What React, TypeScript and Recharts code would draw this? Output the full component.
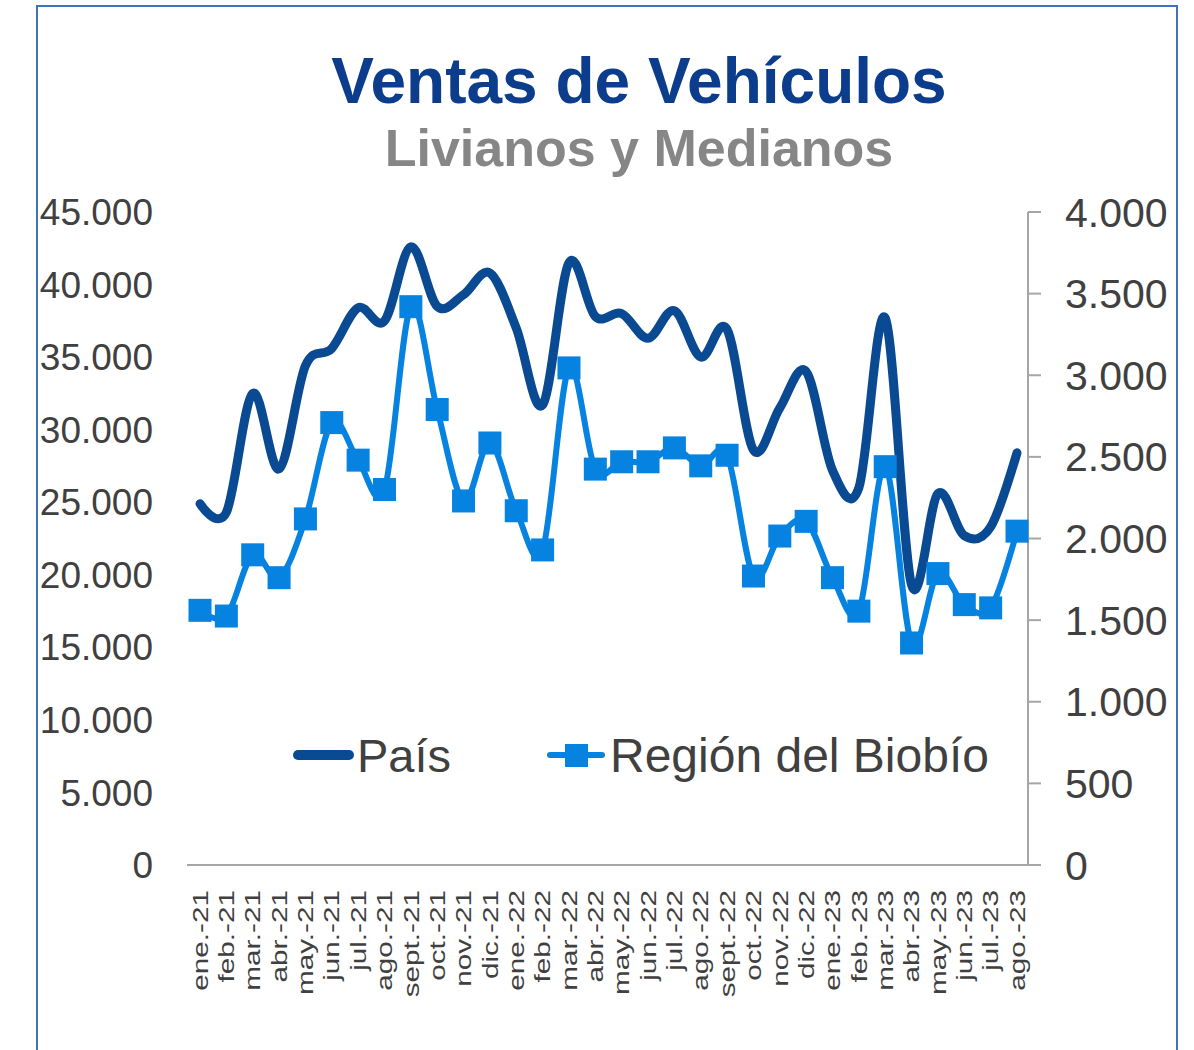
import React from 'react';
import { LineChart, Line, XAxis, YAxis, Legend } from 'recharts';

const months = [
  'ene.-21', 'feb.-21', 'mar.-21', 'abr.-21', 'may.-21', 'jun.-21', 'jul.-21', 'ago.-21',
  'sept.-21', 'oct.-21', 'nov.-21', 'dic.-21',
  'ene.-22', 'feb.-22', 'mar.-22', 'abr.-22', 'may.-22', 'jun.-22', 'jul.-22', 'ago.-22',
  'sept.-22', 'oct.-22', 'nov.-22', 'dic.-22',
  'ene.-23', 'feb.-23', 'mar.-23', 'abr.-23', 'may.-23', 'jun.-23', 'jul.-23', 'ago.-23',
];

// País (left axis)
const pais = [
  24900, 24300, 32500, 27300, 34400, 35600, 38400, 37500,
  42600, 38500, 39300, 40800,
  37000, 31700, 41500, 37800, 38000, 36300, 38200, 35000,
  36900, 28600, 31500, 34000,
  27200, 26000, 37700, 19300, 25600, 22700, 23300, 28400,
];

// Región del Biobío (right axis)
const region = [
  1560, 1525, 1900, 1760, 2120, 2710, 2480, 2300,
  3420, 2790, 2230, 2585,
  2170, 1930, 3045, 2425, 2470, 2470, 2555, 2445,
  2510, 1770, 2015, 2105,
  1760, 1555, 2440, 1360, 1785, 1595, 1575, 2045,
];

const leftTicks = [0, 5000, 10000, 15000, 20000, 25000, 30000, 35000, 40000, 45000];
const rightTicks = [0, 500, 1000, 1500, 2000, 2500, 3000, 3500, 4000];

const data = months.map((m, i) => ({ month: m, pais: pais[i], region: region[i] }));

const FONT = '"Liberation Sans", Arial, sans-serif';
const DARK = '#0A4A92';
const LIGHT = '#0682E0';
const TEXT = '#404040';
const AXIS = '#A6A6A6';

const fmt = (v: number) => String(v).replace(/\B(?=(\d{3})+(?!\d))/g, '.');

// Excel-style smoothing (uniform Catmull-Rom / cardinal with tension 0)
function excelSmooth(context: any) {
  const k = 1 / 6;
  let x0: number, x1: number, x2: number, y0: number, y1: number, y2: number;
  let pt = 0;
  let line: number = NaN;
  const seg = (x: number, y: number) => {
    context.bezierCurveTo(
      x1 + k * (x2 - x0),
      y1 + k * (y2 - y0),
      x2 + k * (x1 - x),
      y2 + k * (y1 - y),
      x2,
      y2
    );
  };
  return {
    areaStart() { line = 0; },
    areaEnd() { line = NaN; },
    lineStart() {
      x0 = x1 = x2 = y0 = y1 = y2 = NaN;
      pt = 0;
    },
    lineEnd() {
      if (pt === 2) context.lineTo(x2, y2);
      else if (pt === 3) seg(x1, y1);
      if (line || (line !== 0 && pt === 1)) context.closePath();
      line = 1 - line;
    },
    point(x: number, y: number) {
      x = +x; y = +y;
      if (pt === 0) {
        pt = 1;
        line ? context.lineTo(x, y) : context.moveTo(x, y);
      } else if (pt === 1) {
        pt = 2;
        x1 = x; y1 = y;
      } else {
        if (pt === 2) pt = 3;
        seg(x, y);
      }
      x0 = x1; x1 = x2; x2 = x;
      y0 = y1; y1 = y2; y2 = y;
    },
  };
}

const MonthTick = ({ x, y, payload }: any) => (
  <text
    transform={`translate(${x},${y}) rotate(-90) scale(1.35,1)`}
    textAnchor="end"
    dy="0.35em"
    fill={TEXT}
    fontSize={22}
    fontFamily={FONT}
  >
    {payload.value}
  </text>
);

const SquareDot = ({ cx, cy, index }: any) => (
  <rect key={`sq-${index}`} x={cx - 11.5} y={cy - 11.5} width={23} height={23} fill={LIGHT} />
);

const LegendBox = () => (
  <svg width={1194} height={70} style={{ display: 'block' }}>
    <line x1={298} y1={35} x2={349} y2={35} stroke={DARK} strokeWidth={10} strokeLinecap="round" />
    <text x={357} y={52} fill={TEXT} fontSize={47} fontFamily={FONT}>País</text>
    <line x1={550} y1={35} x2={602} y2={35} stroke={LIGHT} strokeWidth={6} strokeLinecap="round" />
    <rect x={565} y={24} width={23} height={23} fill={LIGHT} />
    <text x={610} y={52} fill={TEXT} fontSize={48} fontFamily={FONT}>Región del Biobío</text>
  </svg>
);

export default function App() {
  return (
    <div
      style={{
        position: 'absolute',
        left: 0,
        top: 0,
        width: 1194,
        height: 1050,
        overflow: 'hidden',
        background: '#fff',
        fontFamily: FONT,
      }}
    >
      <div
        style={{
          position: 'absolute',
          left: 36,
          top: 5,
          width: 1138,
          height: 1100,
          border: '2px solid #3F72B8',
        }}
      />
      <div
        style={{
          position: 'absolute',
          left: 139,
          width: 1000,
          top: 49,
          textAlign: 'center',
          fontSize: 64,
          lineHeight: '64px',
          fontWeight: 700,
          color: '#0C3C8C',
          whiteSpace: 'nowrap',
        }}
      >
        Ventas de Vehículos
      </div>
      <div
        style={{
          position: 'absolute',
          left: 139,
          width: 1000,
          top: 122,
          textAlign: 'center',
          fontSize: 52,
          lineHeight: '52px',
          fontWeight: 700,
          color: '#868686',
          whiteSpace: 'nowrap',
        }}
      >
        Livianos y Medianos
      </div>
      <LineChart
        width={1194}
        height={1050}
        data={data}
        margin={{ top: 212, right: 16, left: 37, bottom: 50 }}
      >
        <XAxis
          dataKey="month"
          interval={0}
          height={135}
          padding={{ left: 13, right: 11 }}
          axisLine={{ stroke: AXIS, strokeWidth: 2 }}
          tickLine={false}
          tickSize={0}
          tickMargin={25}
          tick={<MonthTick />}
        />
        <YAxis
          yAxisId="left"
          orientation="left"
          width={150}
          domain={[0, 45000]}
          ticks={leftTicks}
          axisLine={false}
          tickLine={false}
          tickSize={0}
          tickMargin={34}
          tickFormatter={fmt}
          tick={{ fill: TEXT, fontSize: 37, fontFamily: FONT }}
        />
        <YAxis
          yAxisId="right"
          orientation="right"
          width={150}
          domain={[0, 4000]}
          ticks={rightTicks}
          axisLine={{ stroke: AXIS, strokeWidth: 2 }}
          tickLine={{ stroke: AXIS, strokeWidth: 2 }}
          tickSize={13}
          tickMargin={24}
          tickFormatter={fmt}
          tick={{ fill: TEXT, fontSize: 41, fontFamily: FONT }}
        />
        <Legend
          layout="horizontal"
          verticalAlign="middle"
          align="center"
          wrapperStyle={{ position: 'absolute', left: 0, top: 720, width: 1194, height: 70 }}
          content={<LegendBox />}
        />
        <Line
          yAxisId="left"
          dataKey="pais"
          name="País"
          type={excelSmooth as any}
          stroke={DARK}
          strokeWidth={9}
          strokeLinecap="round"
          strokeLinejoin="round"
          dot={false}
          activeDot={false}
          isAnimationActive={false}
        />
        <Line
          yAxisId="right"
          dataKey="region"
          name="Región del Biobío"
          type={excelSmooth as any}
          stroke={LIGHT}
          strokeWidth={6}
          strokeLinejoin="round"
          dot={<SquareDot />}
          activeDot={false}
          isAnimationActive={false}
        />
      </LineChart>
    </div>
  );
}
